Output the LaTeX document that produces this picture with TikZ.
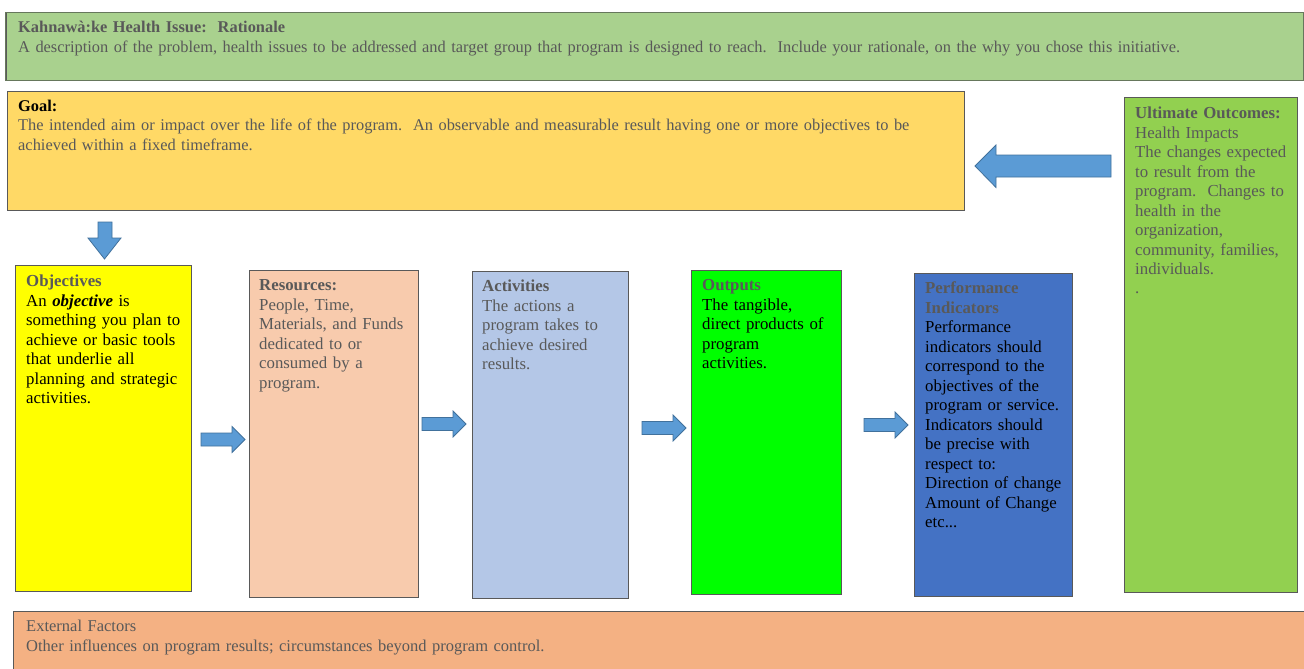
\documentclass[tikz,border=0pt]{standalone}
\usepackage{fontspec}
\setmainfont{Liberation Serif}
\definecolor{cTop}{HTML}{A9D18E}
\definecolor{cTopB}{HTML}{66775C}
\definecolor{cGoal}{HTML}{FFD966}
\definecolor{cUlt}{HTML}{92D050}
\definecolor{cObj}{HTML}{FFFF00}
\definecolor{cRes}{HTML}{F8CBAD}
\definecolor{cAct}{HTML}{B4C7E7}
\definecolor{cOut}{HTML}{00FF00}
\definecolor{cPI}{HTML}{4472C4}
\definecolor{cExt}{HTML}{F4B183}
\definecolor{cArr}{HTML}{5B9BD5}
\definecolor{cArrB}{HTML}{41719C}
\definecolor{tgray}{HTML}{595959}
\definecolor{bgray}{HTML}{595959}
\tikzset{
  panel/.style={draw=bgray, line width=0.9pt, inner sep=0pt, anchor=north west},
  txt/.style={anchor=base west, inner sep=0pt, align=left, text=tgray,
    font=\fontsize{16.8}{19.5}\selectfont},
  widetxt/.style={txt, font=\fontsize{16.4}{19.5}\selectfont},
  blockarrow/.style={fill=cArr, draw=cArrB, line width=0.8pt, line join=miter},
}
\newcommand\rarrow[3]{% name, x0, yc
  \draw[blockarrow] (#2,#3-6.5) -- (#2+31,#3-6.5) -- (#2+31,#3-13) -- (#2+44,#3)
     -- (#2+31,#3+13) -- (#2+31,#3+6.5) -- (#2,#3+6.5) -- cycle;
  \coordinate (#1) at (#2+22,#3);}
\newcommand\panelbox[6]{% name, x0, y0, x1, y1, fill
  \node[panel, fill=#6, minimum width=#4-#2, minimum height=#5-#3] (#1) at (#2,#3) {};}
\begin{document}
\begin{tikzpicture}[x=1pt,y=-1pt]
\useasboundingbox[fill=white] (0,0) rectangle (1304,669);

% panels
\panelbox{top}{5.5}{12.5}{1302.5}{80}{cTop}
\draw[draw=cTopB, line width=0.9pt] (top.north west) rectangle (top.south east);
\panelbox{goal}{6.5}{90.5}{964}{210}{cGoal}
\panelbox{ult}{1123.5}{96.5}{1297}{592}{cUlt}
\panelbox{obj}{14.5}{264.5}{191}{591}{cObj}
\panelbox{res}{248.5}{269.5}{418}{597}{cRes}
\panelbox{act}{471.5}{270.5}{628}{598}{cAct}
\panelbox{out}{690.5}{269.5}{841}{594}{cOut}
\panelbox{pi}{913.5}{272.5}{1072}{596}{cPI}
\panelbox{ext}{12.5}{610.5}{1320}{690}{cExt}

% arrows
\draw[blockarrow] (1111,155) -- (996,155) -- (996,145) -- (975,166) -- (996,187.5)
   -- (996,177) -- (1111,177) -- cycle;
\coordinate (ultToGoal) at (1043,166);
\draw[blockarrow] (98,222) -- (112,222) -- (112,238) -- (121,238) -- (104.5,259)
   -- (88,238) -- (98,238) -- cycle;
\coordinate (goalToObj) at (104.5,240);
\rarrow{a1}{201}{439.5}
\rarrow{a2}{422}{424}
\rarrow{a3}{642}{428}
\rarrow{a4}{864}{425}

% texts
\node[widetxt, text width=1280pt] (ttop) at (18,33)
 {\textbf{Kahnawà:ke Health Issue:\ \ Rationale}\\
  A description of the problem, health issues to be addressed and target group that program is designed to reach.\ \ Include your rationale, on the why you chose this initiative.};

\node[widetxt, text width=950pt] (tgoal) at (18,111)
 {\textcolor{black}{\textbf{Goal:}}\\
  The intended aim or impact over the life of the program.\ \ An observable and measurable result having one or more objectives to be\\
  achieved within a fixed timeframe.};

\node[txt, text width=170pt] (tult) at (1135,118.5)
 {\textbf{Ultimate Outcomes:}\\
  Health Impacts\\
  The changes expected\\
  to result from the\\
  program.\ \ Changes to\\
  health in the\\
  organization,\\
  community, families,\\
  individuals.\\
  .};

\node[txt, text width=170pt] (tobj) at (26,286.5)
 {\textbf{Objectives}\\
  \color{black}An \textbf{\textit{objective}} is\\
  something you plan to\\
  achieve or basic tools\\
  that underlie all\\
  planning and strategic\\
  activities.};

\node[txt, text width=165pt] (tres) at (259,290.5)
 {\textbf{Resources:}\\
  People, Time,\\
  Materials, and Funds\\
  dedicated to or\\
  consumed by a\\
  program.};

\node[txt, text width=150pt] (tact) at (482,291.5)
 {\textbf{Activities}\\
  The actions a\\
  program takes to\\
  achieve desired\\
  results.};

\node[txt, text width=150pt] (tout) at (702,290.5)
 {\textbf{Outputs}\\
  \color{black}The tangible,\\
  direct products of\\
  program\\
  activities.};

\node[txt, text width=160pt] (tpi) at (925,293.5)
 {\textbf{Performance}\\
  \textbf{Indicators}\\
  \color{black}Performance\\
  indicators should\\
  correspond to the\\
  objectives of the\\
  program or service.\\
  Indicators should\\
  be precise with\\
  respect to:\\
  Direction of change\\
  Amount of Change\\
  etc...};

\node[txt, font=\fontsize{16.5}{19.5}\selectfont, text width=1200pt] (text) at (26,631.5)
 {External Factors\\
  Other influences on program results; circumstances beyond program control.};
\end{tikzpicture}
\end{document}
